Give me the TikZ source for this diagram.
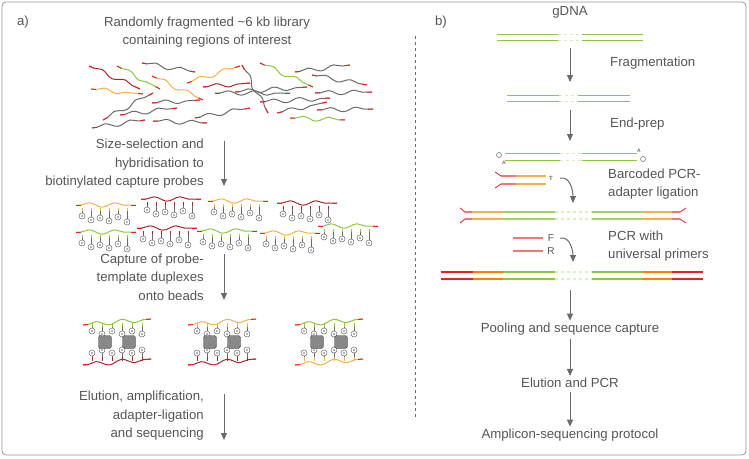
\documentclass[tikz,border=0pt]{standalone}
\usepackage{fontspec}
\setmainfont{Liberation Sans}
\usetikzlibrary{arrows.meta,calc,decorations.pathmorphing}
\definecolor{txt}{HTML}{555555}
\definecolor{tipred}{HTML}{E8202A}
\definecolor{dred}{HTML}{A3282C}
\definecolor{gr}{HTML}{8DC63F}
\definecolor{orn}{HTML}{F5B04C}
\definecolor{gry}{HTML}{6A6A6A}
\definecolor{pink}{HTML}{EE7777}
\tikzset{
 lbl/.style={font=\fontsize{13.2}{18.5}\selectfont, text=txt, inner sep=0pt},
 arr/.style={draw=gry, line width=1pt, -{Triangle[length=7pt,width=6pt]}},
 wave/.style={decorate, decoration={snake, amplitude=2.2pt, segment length=26pt, pre length=5pt, post length=5pt}, line width=1pt},
 bio/.style={draw=gry, circle, inner sep=0pt, minimum size=6pt, line width=0.5pt},
 bead/.style={fill=gry!80, draw=gry!60!black, rounded corners=2.5pt, minimum size=13pt, inner sep=0pt},
}
\newcommand{\frag}[3]{%
 \draw[#3, wave] (#1) -- (#2);
 \draw[tipred, line width=1pt] (#1) -- ($(#1)!5pt!(#2)$);
 \draw[tipred, line width=1pt] (#2) -- ($(#2)!5pt!(#1)$);}
\newcommand{\probe}[3]{%
 \frag{#1,#2}{#1+60,#2}{#3}
 \foreach \i/\d in {0/0,1/4,2/2,3/5,4/1,5/6}{
  \draw[#3, line width=0.8pt] (#1+6+9*\i,#2+3) -- (#1+6+9*\i,#2+6);
  \draw[gry, line width=0.4pt] (#1+6+9*\i,#2+6) -- (#1+6+9*\i,#2+8+\d);
  \node[bio] at (#1+6+9*\i,#2+11+\d) {};
  \fill[gry] (#1+6+9*\i,#2+11+\d) circle (0.9pt);}}
\newcommand{\beads}[4]{%
 \frag{#1-34,#2-17}{#1+34,#2-23}{#3}
 \frag{#1-34,#2+23}{#1+34,#2+17}{#4}
 \foreach \i/\m in {0/0,1/3,2/0,3/3,4/0,5/3}{
  \draw[#3, line width=0.8pt] (#1-25+10*\i,#2-19) -- (#1-25+10*\i,#2-15);
  \draw[gry, line width=0.4pt] (#1-25+10*\i,#2-15) -- (#1-25+10*\i,#2-14+\m);
  \node[bio] at (#1-25+10*\i,#2-11+\m) {};
  \fill[gry] (#1-25+10*\i,#2-11+\m) circle (0.9pt);
  \draw[#4, line width=0.8pt] (#1-25+10*\i,#2+19) -- (#1-25+10*\i,#2+15);
  \draw[gry, line width=0.4pt] (#1-25+10*\i,#2+15) -- (#1-25+10*\i,#2+14-\m);
  \node[bio] at (#1-25+10*\i,#2+11-\m) {};
  \fill[gry] (#1-25+10*\i,#2+11-\m) circle (0.9pt);}
 \node[bead] at (#1-12,#2) {};
 \node[bead] at (#1+12,#2) {};}
\newcommand{\dsgreen}[4]{%
 \foreach \o in {0,#4}{
 \draw[gr, line width=1pt] (#1,#3+\o) -- ({#1+0.42*(#2-#1)},#3+\o);
 \draw[gr!35, line width=1pt, dashed] ({#1+0.42*(#2-#1)},#3+\o) -- ({#1+0.58*(#2-#1)},#3+\o);
 \draw[gr, line width=1pt] ({#1+0.58*(#2-#1)},#3+\o) -- (#2,#3+\o);}}
\begin{document}
\begin{tikzpicture}[x=1pt,y=-1pt]
\useasboundingbox (0,0) rectangle (749,458);
\draw[gry!70, line width=0.8pt, rounded corners=4pt] (2,2) rectangle (746,455);
\draw[gry, dashed, line width=0.6pt] (415,36) -- (415,420);
% ---------- a ----------
\node[lbl] (la) at (23,22) {a)};
\node[lbl, align=center] (t1) at (207,32) {Randomly fragmented \textasciitilde6 kb library\\containing regions of interest};
\frag{89,66}{140,89}{dred}
\frag{117,66}{160,89}{gr}
\frag{91,89}{143,94}{orn}
\frag{142,63}{195,72}{gry}
\frag{152,76}{203,100}{orn}
\frag{92,128}{145,120}{gry}
\frag{103,120}{153,93}{gry}
\frag{120,115}{177,108}{gry}
\frag{152,103}{200,100}{gry}
\frag{153,121}{207,123}{gry}
\frag{187,83}{240,66}{orn}
\frag{203,87}{250,83}{dred}
\frag{242,65}{268,113}{gry}
\frag{260,63}{313,87}{gr}
\frag{195,118}{250,108}{gry}
\frag{215,93}{290,93}{gry}
\frag{235,92}{307,87}{gry}
\frag{260,102}{330,98}{gry}
\frag{277,113}{327,102}{gry}
\frag{290,118}{345,120}{gr}
\frag{295,72}{350,65}{gry}
\frag{312,75}{367,85}{gry}
\frag{315,93}{372,92}{gry}
\frag{317,110}{373,109}{gry}
\node[lbl, align=right, anchor=east] (t2) at (204,164) {Size-selection and\\hybridisation to\\biotinylated capture probes};
\coordinate (a1s) at (224,141); \coordinate (a1e) at (224,186);
\draw[arr] (a1s) -- (a1e);
\probe{76}{205}{orn}
\probe{141}{199}{dred}
\probe{208}{201}{orn}
\probe{277}{203}{dred}
\probe{76}{232}{gr}
\probe{137}{228}{dred}
\probe{197}{231}{gr}
\probe{260}{233}{orn}
\probe{318}{226}{gr}
\node[lbl, align=right, anchor=east] (t3) at (204,277) {Capture of probe-\\template duplexes\\onto beads};
\coordinate (a2s) at (224,254); \coordinate (a2e) at (224,300);
\draw[arr] (a2s) -- (a2e);
\beads{117}{342}{gr}{dred}
\beads{222}{342}{orn}{dred}
\beads{329}{342}{gr}{orn}
\node[lbl, align=right, anchor=east] (t4) at (204,416) {Elution, amplification,\\adapter-ligation\\and sequencing};
\coordinate (a3s) at (224,394); \coordinate (a3e) at (224,440);
\draw[arr] (a3s) -- (a3e);
% ---------- b ----------
\node[lbl] (lb) at (441,22) {b)};
\node[lbl] (gdna) at (570,12) {gDNA};
\dsgreen{497}{643}{34}{6}
\coordinate (b1s) at (570,48); \coordinate (b1e) at (570,82);
\draw[arr] (b1s) -- (b1e);
\node[lbl, anchor=west] (frg) at (610,63) {Fragmentation};
\dsgreen{507}{630}{95}{6}
\coordinate (b2s) at (570,110); \coordinate (b2e) at (570,141);
\draw[arr] (b2s) -- (b2e);
\node[lbl, anchor=west] (ep) at (610,124) {End-prep};
\dsgreen{505}{637}{153}{7}
\node[bio, minimum size=5pt] (p1) at (499,155) {};
\node[font=\fontsize{5}{5}\selectfont\bfseries, text=gry] (A1) at (504,163) {A};
\node[bio, minimum size=5pt] (p2) at (643,159) {};
\node[font=\fontsize{5}{5}\selectfont\bfseries, text=gry] (A2) at (639,151) {A};
\foreach \yy/\s in {176/-1,184/1}{
 \draw[tipred, line width=0.8pt] (495,\yy+\s*4) -- (501,\yy);
 \draw[pink, line width=1.2pt] (501,\yy) -- (516,\yy);
 \draw[orn, line width=1.2pt] (516,\yy) -- (546,\yy);}
\node[font=\fontsize{6}{6}\selectfont\bfseries, text=gry] (T) at (551,178) {T};
\coordinate (b3s) at (560,178); \coordinate (b3e) at (573,203);
\draw[arr] (b3s) to[out=10,in=90] (b3e);
\node[lbl, anchor=west, align=left] (bc) at (608,184) {Barcoded PCR-\\adapter ligation};
\foreach \yy/\s in {212/-1,219/1}{
 \draw[tipred, line width=0.8pt] (460,\yy+\s*4) -- (465,\yy);
 \draw[pink, line width=1.2pt] (465,\yy) -- (472,\yy);
 \draw[orn, line width=1.2pt] (472,\yy) -- (503,\yy);
 \draw[gr!80, line width=1.2pt] (503,\yy) -- (555,\yy);
 \draw[gr!30, line width=1.2pt, dashed] (555,\yy) -- (592,\yy);
 \draw[gr!80, line width=1.2pt] (592,\yy) -- (642,\yy);
 \draw[orn, line width=1.2pt] (642,\yy) -- (672,\yy);
 \draw[pink, line width=1.2pt] (672,\yy) -- (680,\yy);
 \draw[tipred, line width=0.8pt] (680,\yy) -- (686,\yy+\s*4);}
\draw[pink, line width=1.2pt] (513,238) -- (543,238);
\draw[pink, line width=1.2pt] (513,251) -- (543,251);
\node[lbl, font=\fontsize{10}{10}\selectfont] (F) at (551,238) {F};
\node[lbl, font=\fontsize{10}{10}\selectfont] (R) at (551,251) {R};
\coordinate (b4s) at (560,238); \coordinate (b4e) at (573,262);
\draw[arr] (b4s) to[out=10,in=90] (b4e);
\node[lbl, anchor=west, align=left] (pcr) at (608,246) {PCR with\\universal primers};
\foreach \yy in {272,279}{
 \draw[tipred, line width=1.2pt] (441,\yy) -- (473,\yy);
 \draw[orange, line width=1.2pt] (473,\yy) -- (503,\yy);
 \draw[gr, line width=1.2pt] (503,\yy) -- (555,\yy);
 \draw[gr!30, line width=1.2pt, dashed] (555,\yy) -- (592,\yy);
 \draw[gr, line width=1.2pt] (592,\yy) -- (642,\yy);
 \draw[orange, line width=1.2pt] (642,\yy) -- (672,\yy);
 \draw[tipred, line width=1.2pt] (672,\yy) -- (703,\yy);}
\coordinate (b5s) at (570,290);
\node[lbl] (pool) at (570,329) {Pooling and sequence capture};
\draw[arr] (b5s) -- ([yshift=2pt]pool.north);
\node[lbl] (el) at (570,383) {Elution and PCR};
\draw[arr] ([yshift=-4pt]pool.south) -- ([yshift=2pt]el.north);
\node[lbl] (amp) at (570,435) {Amplicon-sequencing protocol};
\draw[arr] ([yshift=-4pt]el.south) -- ([yshift=2pt]amp.north);
\end{tikzpicture}
\end{document}
